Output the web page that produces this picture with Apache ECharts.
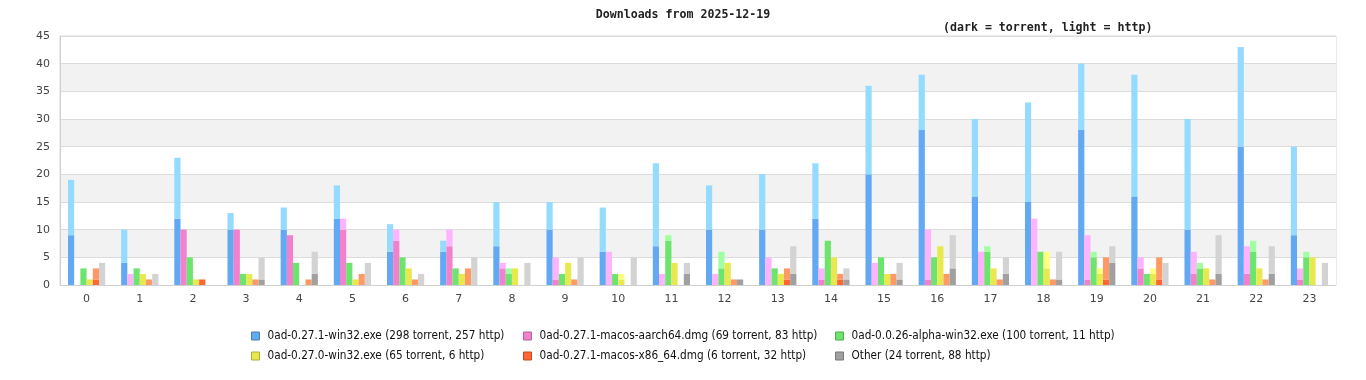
<!DOCTYPE html>
<html>
<head>
<meta charset="utf-8">
<script src="https://cdn.jsdelivr.net/npm/echarts@6/dist/echarts.min.js"></script>
<style>html,body{margin:0;padding:0;background:#fff;}#c{width:1366px;height:380px;}</style>
</head>
<body>
<div id="c"></div>
<script>
const hours = ['0','1','2','3','4','5','6','7','8','9','10','11','12','13','14','15','16','17','18','19','20','21','22','23'];
const fileNames = [
  '0ad-0.27.1-win32.exe (298 torrent, 257 http)',
  '0ad-0.27.1-macos-aarch64.dmg (69 torrent, 83 http)',
  '0ad-0.0.26-alpha-win32.exe (100 torrent, 11 http)',
  '0ad-0.27.0-win32.exe (65 torrent, 6 http)',
  '0ad-0.27.1-macos-x86_64.dmg (6 torrent, 32 http)',
  'Other (24 torrent, 88 http)'
];
const win32Torrent   = [9,4,12,10,10,12,6,6,7,10,6,7,10,10,12,20,28,16,15,28,16,10,25,9];
const win32Http      = [10,6,11,3,4,6,5,2,8,5,8,15,8,10,10,16,10,14,18,12,22,20,18,16];
const aarchTorrent   = [0,0,10,10,9,10,8,7,3,1,0,0,0,0,1,0,1,0,0,1,3,2,2,1];
const aarchHttp      = [0,2,0,0,0,2,2,3,1,4,6,2,2,5,2,4,9,6,12,8,2,4,5,2];
const alphaTorrent   = [3,3,5,2,4,4,5,3,2,2,2,8,3,3,8,5,5,6,6,5,2,3,6,5];
const alphaHttp      = [0,0,0,0,0,0,0,0,1,0,0,1,3,0,0,0,0,1,0,1,0,1,2,1];
const w270Torrent    = [1,2,1,2,0,1,3,2,3,4,1,4,4,2,5,2,7,3,3,2,2,3,3,5];
const w270Http       = [0,0,0,0,0,0,0,0,0,0,1,0,0,0,0,0,0,0,3,1,1,0,0,0];
const x86Torrent     = [1,0,1,0,0,0,0,0,0,0,0,0,0,1,1,0,0,0,0,1,1,0,0,0];
const x86Http        = [2,1,0,1,1,2,1,3,0,1,0,0,1,2,1,2,2,1,1,4,4,1,1,0];
const otherTorrent   = [0,0,0,1,2,0,0,0,0,0,0,2,1,2,1,1,3,2,1,4,0,2,2,0];
const otherHttp      = [4,2,0,4,4,4,2,5,4,5,5,2,0,5,2,3,6,3,5,3,4,7,5,4];
const yTicks = [0,5,10,15,20,25,30,35,40,45];

const darkColors  = ['#62a8f2','#f281cd','#6de46d','#e8e84f','#ff6633','#a0a0a0'];
const lightColors = ['#94dbff','#ffb3ff','#a0ffa0','#ffff80','#ff9966','#d3d3d3'];
const borderColors = ['#4a7fb5','#b5609a','#52ab52','#aeae3b','#bf4c26','#787878'];

const torrentData = [win32Torrent, aarchTorrent, alphaTorrent, w270Torrent, x86Torrent, otherTorrent];
const httpData = [win32Http, aarchHttp, alphaHttp, w270Http, x86Http, otherHttp];

const series = [];
for (let i = 0; i < 6; i++) {
  series.push({
    name: fileNames[i], type: 'bar', stack: 's' + i,
    data: torrentData[i].map(v => v === 0 ? null : v),
    itemStyle: { color: darkColors[i] },
    barGap: '0%', barCategoryGap: '30%', animation: false
  });
  series.push({
    name: fileNames[i] + ' http', type: 'bar', stack: 's' + i,
    data: httpData[i].map(v => v === 0 ? null : v),
    itemStyle: { color: lightColors[i] },
    barGap: '0%', barCategoryGap: '30%', animation: false
  });
}

function legendFor(idx, left) {
  return {
    orient: 'vertical', left: left, top: 330, itemGap: 8, padding: 0,
    itemWidth: 8, itemHeight: 8, icon: 'rect',
    textStyle: { fontFamily: 'DejaVu Sans Condensed', fontSize: 11.7, color: '#111', padding: [0, 0, 0, 3] },
    data: idx.map(i => ({ name: fileNames[i], itemStyle: { color: darkColors[i], borderColor: borderColors[i], borderWidth: 1 } })),
    selectedMode: false
  };
}

const chart = echarts.init(document.getElementById('c'), null, { renderer: 'canvas' });
chart.setOption({
  animation: false,
  backgroundColor: '#fff',
  title: [
    { text: 'Downloads from 2025-12-19', left: 'center', top: 4,
      textStyle: { fontFamily: 'DejaVu Sans Mono', fontWeight: 'bold', fontSize: 11.6, color: '#222' } },
    { text: '(dark = torrent, light = http)', left: 938, top: 17,
      textStyle: { fontFamily: 'DejaVu Sans Mono', fontWeight: 'bold', fontSize: 11.6, color: '#222' } }
  ],
  legend: [legendFor([0, 3], 251), legendFor([1, 4], 523), legendFor([2, 5], 835)],
  grid: { left: 60, right: 30, top: 36, bottom: 95, show: true, borderColor: '#d8d8d8', borderWidth: 1, backgroundColor: 'transparent' },
  xAxis: {
    type: 'category', data: hours,
    axisLine: { lineStyle: { color: '#d0d0d0' } },
    axisTick: { show: false },
    axisLabel: { color: '#444', fontFamily: 'DejaVu Sans', fontSize: 11, margin: 9 },
    splitLine: { show: false }
  },
  yAxis: {
    type: 'value', min: 0, max: 45, interval: 5,
    axisLine: { show: true, lineStyle: { color: '#d0d0d0' } },
    axisTick: { show: false },
    axisLabel: { color: '#444', fontFamily: 'DejaVu Sans', fontSize: 11, margin: 10,
      formatter: v => yTicks.includes(v) ? String(v) : '' },
    splitLine: { show: true, lineStyle: { color: '#dcdcdc' } },
    splitArea: { show: true, areaStyle: { color: ['#ffffff', '#f2f2f2'] } }
  },
  series: series
});
</script>
</body>
</html>
